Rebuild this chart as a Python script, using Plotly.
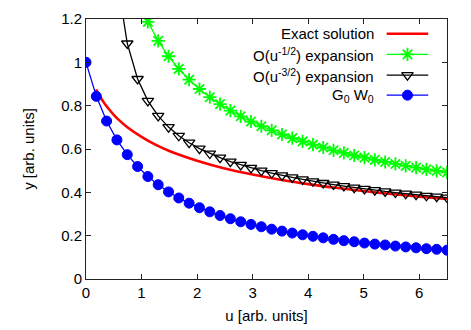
"""Exact solution vs. asymptotic expansions and G0W0, as a gnuplot-style Plotly figure."""
import plotly.graph_objects as go

# marker grid shared by the three sampled series
U = [0.000, 0.186, 0.371, 0.557, 0.743, 0.929, 1.114, 1.300, 1.486, 1.671,
     1.857, 2.043, 2.229, 2.414, 2.600, 2.786, 2.971, 3.157, 3.343, 3.529,
     3.714, 3.900, 4.086, 4.271, 4.457, 4.643, 4.829, 5.014, 5.200, 5.386,
     5.571, 5.757, 5.943, 6.129, 6.314, 6.500]

G0W0 = [1.000, 0.843, 0.729, 0.642, 0.574, 0.519, 0.473, 0.435, 0.402, 0.374,
        0.350, 0.329, 0.310, 0.293, 0.278, 0.264, 0.252, 0.241, 0.230, 0.221,
        0.212, 0.204, 0.197, 0.190, 0.183, 0.177, 0.172, 0.166, 0.161, 0.157,
        0.152, 0.148, 0.144, 0.140, 0.137, 0.133]

# O(u^-1/2) from the 6th grid point on (u = 0.929 is already above the frame)
U_HALF = U[5:]
EXP_HALF = [1.300, 1.187, 1.099, 1.028, 0.970, 0.920, 0.877, 0.839, 0.807, 0.777,
            0.751, 0.727, 0.705, 0.686, 0.667, 0.650, 0.635, 0.620, 0.607, 0.594,
            0.582, 0.570, 0.560, 0.550, 0.540, 0.531, 0.522, 0.514, 0.506, 0.499,
            0.492]

# O(u^-3/2) from the 4th grid point on
U_THREEHALF = U[3:]
EXP_THREEHALF = [1.391, 1.087, 0.923, 0.822, 0.753, 0.701, 0.661, 0.629, 0.602, 0.579,
                 0.560, 0.542, 0.527, 0.513, 0.500, 0.489, 0.478, 0.469, 0.460, 0.451,
                 0.443, 0.436, 0.429, 0.422, 0.416, 0.410, 0.404, 0.399, 0.394, 0.389,
                 0.384, 0.380, 0.376]

U_EXACT = [0.18, 0.20, 0.25, 0.30, 0.35, 0.40, 0.50, 0.60, 0.75, 1.00, 1.25,
           1.50, 2.00, 2.50, 3.00, 3.50, 4.00, 4.50, 5.00, 5.50, 6.00, 6.50]
EXACT = [0.875, 0.865, 0.843, 0.823, 0.804, 0.788, 0.758, 0.732, 0.699, 0.656, 0.620,
         0.591, 0.546, 0.510, 0.482, 0.458, 0.438, 0.421, 0.406, 0.392, 0.380, 0.369]

LABELS = ["Exact solution", "O(u<sup>-1/2</sup>) expansion",
          "O(u<sup>-3/2</sup>) expansion", "G<sub>0</sub> W<sub>0</sub>"]

RED, GREEN, BLACK, BLUE = "#ff0000", "#00ff00", "#000000", "#0000ff"
FONT = "Liberation Sans, Arial, sans-serif"
FS = 15

# per-series style: line colour/width, marker symbol/size/outline (None = no marker)
STYLES = [
    dict(color=RED, width=2.6, symbol=None, size=0, mlw=0),
    dict(color=GREEN, width=1.3, symbol="asterisk-open", size=11, mlw=1.8),
    dict(color=BLACK, width=1.3, symbol="triangle-down-open", size=10, mlw=1.3),
    dict(color=BLUE, width=1.3, symbol="circle", size=10, mlw=1.0),
]


def _marker(st):
    return dict(symbol=st["symbol"], size=st["size"], color=st["color"],
                line=dict(color=st["color"], width=st["mlw"]))


def _trace(x, y, st, **kw):
    mode = "lines" if st["symbol"] is None else "lines+markers"
    marker = _marker(st) if st["symbol"] is not None else None
    return go.Scatter(x=x, y=y, mode=mode, showlegend=False, hoverinfo="skip",
                      line=dict(color=st["color"], width=st["width"]), marker=marker, **kw)


fig = go.Figure()
fig.add_trace(_trace(U_EXACT, EXACT, STYLES[0], line_shape="spline"))
fig.add_trace(_trace(U_HALF, EXP_HALF, STYLES[1]))
fig.add_trace(_trace(U_THREEHALF, EXP_THREEHALF, STYLES[2]))
fig.add_trace(_trace(U, G0W0, STYLES[3]))

# gnuplot-like key: text right-aligned, sample to the right of it (drawn on an overlay axis)
KEY_TEXT_X = 0.803
KEY_LINE_X = (0.833, 0.948)
KEY_ROWS_Y = [0.943, 0.864, 0.784, 0.707]
for lab, st, ky in zip(LABELS, STYLES, KEY_ROWS_Y):
    fig.add_trace(go.Scatter(x=list(KEY_LINE_X), y=[ky, ky], xaxis="x2", yaxis="y2",
                             mode="lines", line=dict(color=st["color"], width=st["width"]),
                             showlegend=False, hoverinfo="skip"))
    if st["symbol"] is not None:
        fig.add_trace(go.Scatter(x=[sum(KEY_LINE_X) / 2], y=[ky], xaxis="x2", yaxis="y2",
                                 mode="markers", showlegend=False, hoverinfo="skip",
                                 marker=_marker(st)))
    fig.add_annotation(x=KEY_TEXT_X, y=ky, xref="paper", yref="paper", text=lab,
                       showarrow=False, xanchor="right", yanchor="middle",
                       font=dict(size=FS, color="#000000", family=FONT))

axis_common = dict(showline=True, linecolor="#222222", linewidth=1, mirror="ticks",
                   ticks="inside", ticklen=5, tickcolor="#222222", showgrid=False,
                   zeroline=False, automargin=False,
                   tickfont=dict(size=FS, color="#000000", family=FONT))

# the page body keeps its default 8px margin, so the figure is 8px smaller and
# its own margins are measured from (8, 8)
fig.update_layout(
    width=463, height=322,
    margin=dict(l=78, r=24, t=11, b=51),
    paper_bgcolor="white", plot_bgcolor="white",
    font=dict(family=FONT, size=FS, color="#000000"),
    xaxis=dict(range=[0, 6.5], dtick=1, tick0=0,
               title=dict(text="u [arb. units]", standoff=10, font=dict(size=FS)),
               **axis_common),
    yaxis=dict(range=[0, 1.2], dtick=0.2, tick0=0,
               title=dict(text="y [arb. units]", standoff=22, font=dict(size=FS)),
               **axis_common),
    xaxis2=dict(overlaying="x", range=[0, 1], visible=False, anchor="y2"),
    yaxis2=dict(overlaying="y", range=[0, 1], visible=False, anchor="x2"),
)

fig.write_html("out.html")
